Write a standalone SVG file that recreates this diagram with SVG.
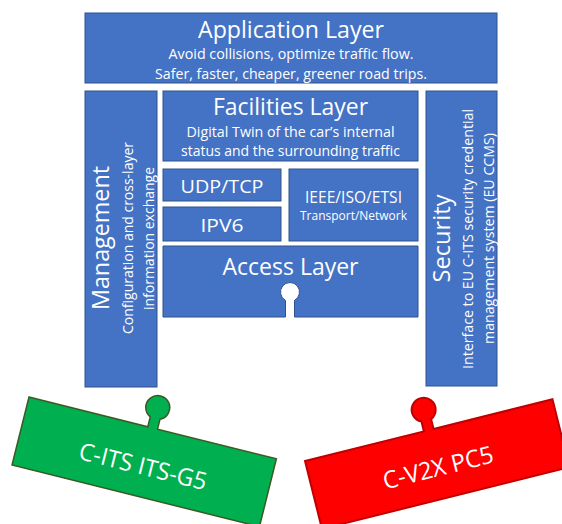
<svg xmlns="http://www.w3.org/2000/svg" width="562" height="524" viewBox="0 0 562 524">
  <style>
    .box { fill: #4472C4; stroke: #2F528F; stroke-width: 1; }
    text { font-family: "Open Sans", "Noto Sans", sans-serif; fill: #FFFFFF; text-anchor: middle; }
    .t-big { font-size: 24px; }
    .t-mid { font-size: 19px; }
    .t-sm { font-size: 14.4px; }
    .t-ieee { font-size: 15.5px; }
    .t-xs { font-size: 12px; }
    .green { fill: #00B050; stroke: #3A5A24; stroke-width: 1.5; }
    .red { fill: #FF0000; stroke: #C00000; stroke-width: 2; }
  </style>
  <defs>
    <!-- plug-in tab: rectangle with a round knob on top, centred on the origin -->
    <path id="tab" d="M -127.5 -35 H -5 V -45.1 A 12 12 0 1 1 5 -45.1 V -35 H 127.5 V 35 H -127.5 Z"/>
  </defs>

  <g id="application-layer">
    <rect class="box" x="85" y="13" width="412" height="70"/>
    <text class="t-big" x="291" y="38" textLength="186" lengthAdjust="spacingAndGlyphs">Application Layer</text>
    <text class="t-sm" x="291" y="59" textLength="245" lengthAdjust="spacingAndGlyphs">Avoid collisions, optimize traffic flow.</text>
    <text class="t-sm" x="291" y="78.5" textLength="272" lengthAdjust="spacingAndGlyphs">Safer, faster, cheaper, greener road trips.</text>
  </g>

  <g id="management">
    <rect class="box" x="85" y="91" width="72" height="296"/>
    <text class="t-big" transform="translate(109,238) rotate(-90)" textLength="144" lengthAdjust="spacingAndGlyphs">Management</text>
    <text class="t-sm" transform="translate(133,238) rotate(-90)" textLength="192" lengthAdjust="spacingAndGlyphs">Configuration and cross-layer</text>
    <text class="t-sm" transform="translate(154,238.5) rotate(-90)" textLength="143" lengthAdjust="spacingAndGlyphs">information exchange</text>
  </g>

  <g id="facilities-layer">
    <rect class="box" x="163" y="91" width="255" height="70"/>
    <text class="t-big" x="290.5" y="115" textLength="155" lengthAdjust="spacingAndGlyphs">Facilities Layer</text>
    <text class="t-sm" x="290.5" y="136.5" textLength="208" lengthAdjust="spacingAndGlyphs">Digital Twin of the car’s internal</text>
    <text class="t-sm" x="290.5" y="156" textLength="219" lengthAdjust="spacingAndGlyphs">status and the surrounding traffic</text>
  </g>

  <g id="udp-tcp">
    <rect class="box" x="163" y="169" width="118" height="32"/>
    <text class="t-mid" x="222" y="193" textLength="83" lengthAdjust="spacingAndGlyphs">UDP/TCP</text>
  </g>

  <g id="ipv6">
    <rect class="box" x="163" y="207" width="118" height="34"/>
    <text class="t-mid" x="222" y="232" textLength="43" lengthAdjust="spacingAndGlyphs">IPV6</text>
  </g>

  <g id="transport-network">
    <rect class="box" x="289" y="169" width="129" height="72"/>
    <text class="t-ieee" x="353.5" y="203" textLength="97" lengthAdjust="spacingAndGlyphs">IEEE/ISO/ETSI</text>
    <text class="t-xs" x="353.5" y="220" textLength="107" lengthAdjust="spacingAndGlyphs">Transport/Network</text>
  </g>

  <g id="access-layer">
    <!-- box with a keyhole socket cut into its bottom edge -->
    <path class="box" d="M 163 246 H 418 V 317 H 294.5 V 300.4 A 9.5 9.5 0 1 0 285.5 300.4 V 317 H 163 Z"/>
    <text class="t-big" x="290.5" y="275" textLength="136" lengthAdjust="spacingAndGlyphs">Access Layer</text>
  </g>

  <g id="security">
    <rect class="box" x="426" y="91" width="71" height="295"/>
    <text class="t-big" transform="translate(449.5,238.5) rotate(-90)" textLength="88" lengthAdjust="spacingAndGlyphs">Security</text>
    <text class="t-sm" transform="translate(473,239) rotate(-90)" textLength="260" lengthAdjust="spacingAndGlyphs">Interface to EU C-ITS security credential</text>
    <text class="t-sm" transform="translate(494,238.5) rotate(-90)" textLength="211" lengthAdjust="spacingAndGlyphs">management system (EU CCMS)</text>
  </g>

  <g id="connectors"/>

  <g id="its-g5" transform="translate(144.2,461.9) rotate(14)">
    <use href="#tab" class="green"/>
    <text class="t-big" x="0" y="13" textLength="131" lengthAdjust="spacingAndGlyphs">C-ITS ITS-G5</text>
  </g>

  <g id="c-v2x" transform="translate(437.2,464.1) rotate(-14)">
    <use href="#tab" class="red"/>
    <text class="t-big" x="0" y="12" textLength="113" lengthAdjust="spacingAndGlyphs">C-V2X PC5</text>
  </g>
</svg>
